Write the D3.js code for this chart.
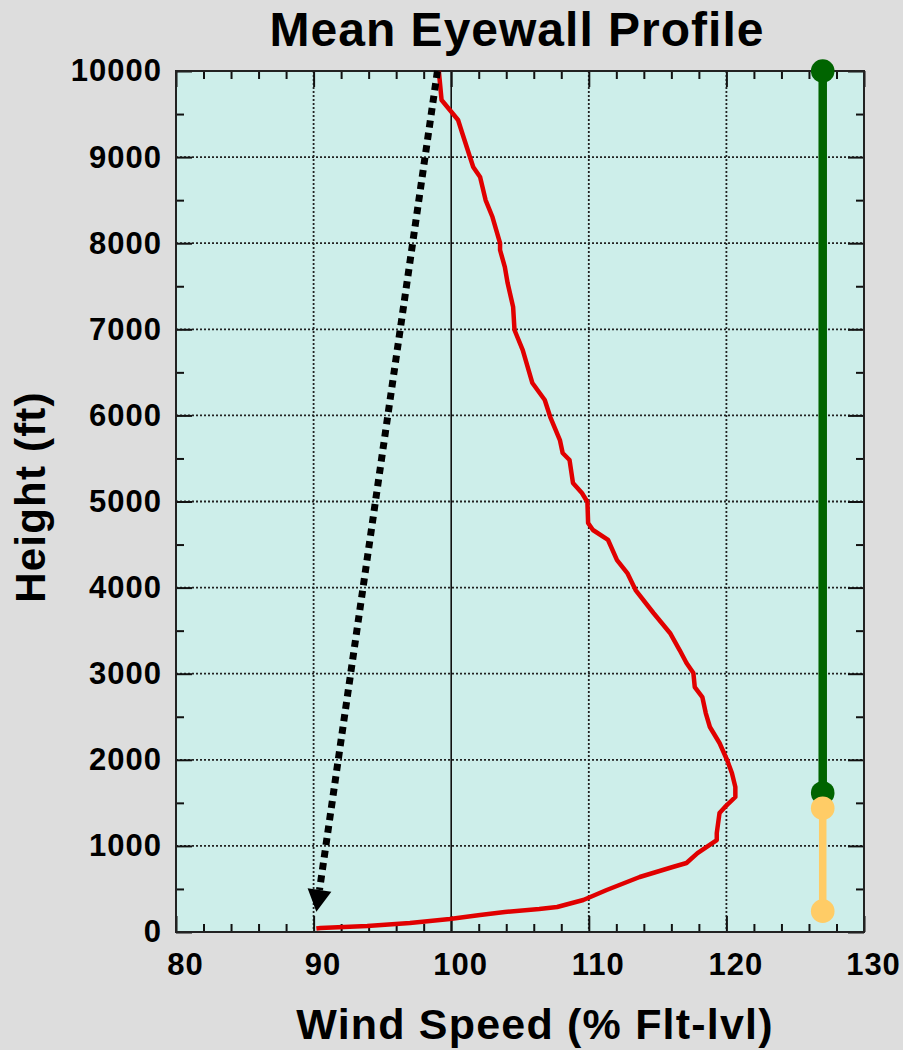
<!DOCTYPE html>
<html>
<head>
<meta charset="utf-8">
<script src="https://cdn.jsdelivr.net/npm/d3@7"></script>
<style>
  html, body { margin: 0; padding: 0; background: #dddddd; }
  svg { display: block; font-family: "Liberation Sans", Arial, sans-serif; font-weight: bold; }
</style>
</head>
<body>
<div class="container"></div>
<script>
// mean eyewall profile
var speed = [99.1, 99.3, 99.9, 100.5, 100.8, 101.2, 101.6, 102.1, 102.5, 103.0, 103.55, 103.55,
  103.9, 104.1, 104.5, 104.6, 105.2, 105.9, 106.8, 107.2, 107.9, 108.1, 108.6, 108.85, 109.5,
  109.9, 109.95, 110.3, 111.4, 112.05, 112.8, 113.4, 114.7, 115.9, 116.6, 117.1, 117.6, 117.7,
  118.25, 118.5, 118.8, 119.5, 120.05, 120.4, 120.65, 120.65, 119.9, 119.5, 119.4, 119.3, 119.3,
  117.9, 117.1, 116.1, 113.7, 111.3, 109.6, 107.7, 106.4, 103.9, 102.1, 99.9, 97.0, 93.9, 90.5, 90.2];
var height = [10000, 9663, 9547, 9431, 9280, 9082, 8885, 8769, 8501, 8304, 8002, 7921,
  7723, 7537, 7259, 6992, 6759, 6376, 6179, 5981, 5714, 5563, 5482, 5215, 5099,
  4994, 4750, 4669, 4553, 4320, 4169, 3972, 3705, 3473, 3275, 3124, 3008, 2845,
  2729, 2543, 2381, 2195, 1998, 1847, 1684, 1568, 1452, 1382, 1266, 1150, 1068,
  917, 801, 755, 639, 488, 372, 290, 267, 232, 197, 151, 105, 70, 46, 40];

var arrowFrom = [99.0, 10000];
var arrowTo = [90.2, 235];

var greenX = 127.0, greenRange = [1615, 10000];
var orangeX = 127.0, orangeRange = [242, 1438];

var xTicks = [80, 90, 100, 110, 120, 130];
var yTicks = [0, 1000, 2000, 3000, 4000, 5000, 6000, 7000, 8000, 9000, 10000];
var xGrid = [90, 110, 120];
var yGrid = [1000, 2000, 3000, 4000, 5000, 6000, 7000, 8000, 9000];
var xMinor = d3.range(82, 130, 2).filter(function(v) { return v % 10; });
var yMinor = d3.range(500, 10000, 1000);

var W = 903, H = 1050;
var plot = { left: 176, right: 864, top: 71, bottom: 932 };

var x = d3.scaleLinear().domain([80, 130]).range([plot.left, plot.right]);
var y = d3.scaleLinear().domain([0, 10000]).range([plot.bottom, plot.top]);

var svg = d3.select('.container').append('svg')
    .attr('width', W)
    .attr('height', H);

svg.append('rect')
    .attr('width', W).attr('height', H)
    .attr('fill', '#dddddd');

svg.append('rect')
    .attr('x', plot.left).attr('y', plot.top)
    .attr('width', plot.right - plot.left).attr('height', plot.bottom - plot.top)
    .attr('fill', '#cdeeea');

// dotted grid
var grid = svg.append('g')
    .attr('stroke', '#222')
    .attr('stroke-width', 1.8)
    .attr('stroke-dasharray', '2,2');
grid.selectAll('.gx').data(xGrid).enter().append('line')
    .attr('x1', function(d) { return x(d); }).attr('x2', function(d) { return x(d); })
    .attr('y1', plot.top).attr('y2', plot.bottom);
grid.selectAll('.gy').data(yGrid).enter().append('line')
    .attr('x1', plot.left).attr('x2', plot.right)
    .attr('y1', function(d) { return y(d); }).attr('y2', function(d) { return y(d); });

// 100% reference line
svg.append('line')
    .attr('x1', x(100)).attr('x2', x(100))
    .attr('y1', plot.top).attr('y2', plot.bottom)
    .attr('stroke', '#111')
    .attr('stroke-width', 1.6);

// ----------
// axes: ticks point inward on all four sides

function styleAxis(g) {
  g.select('.domain').remove();
  g.selectAll('.tick line').attr('stroke', '#111').attr('stroke-width', 2);
  g.selectAll('text')
    .attr('fill', '#000')
    .style('font-size', '31px')
    .style('font-weight', 'bold')
    .style('letter-spacing', '1px')
    .style('font-family', '"Liberation Sans", Arial, sans-serif');
}

var fmt = d3.format('d');

svg.append('g')
    .attr('transform', 'translate(0,' + plot.bottom + ')')
    .call(d3.axisBottom(x).tickValues(xTicks).tickFormat(fmt).tickSize(-16).tickPadding(21))
    .call(styleAxis)
    .selectAll('text').attr('dx', 9);
svg.append('g')
    .attr('transform', 'translate(0,' + plot.bottom + ')')
    .call(d3.axisBottom(x).tickValues(xMinor).tickSize(-8).tickFormat(''))
    .call(styleAxis);
svg.append('g')
    .attr('transform', 'translate(0,' + plot.top + ')')
    .call(d3.axisTop(x).tickValues(xTicks).tickSize(-16).tickFormat(''))
    .call(styleAxis);
svg.append('g')
    .attr('transform', 'translate(0,' + plot.top + ')')
    .call(d3.axisTop(x).tickValues(xMinor).tickSize(-8).tickFormat(''))
    .call(styleAxis);

svg.append('g')
    .attr('transform', 'translate(' + plot.left + ',0)')
    .call(d3.axisLeft(y).tickValues(yTicks).tickFormat(fmt).tickSize(-16).tickPadding(14))
    .call(styleAxis);
svg.append('g')
    .attr('transform', 'translate(' + plot.left + ',0)')
    .call(d3.axisLeft(y).tickValues(yMinor).tickSize(-8).tickFormat(''))
    .call(styleAxis);
svg.append('g')
    .attr('transform', 'translate(' + plot.right + ',0)')
    .call(d3.axisRight(y).tickValues(yTicks).tickSize(-16).tickFormat(''))
    .call(styleAxis);
svg.append('g')
    .attr('transform', 'translate(' + plot.right + ',0)')
    .call(d3.axisRight(y).tickValues(yMinor).tickSize(-8).tickFormat(''))
    .call(styleAxis);

svg.append('rect')
    .attr('x', plot.left).attr('y', plot.top)
    .attr('width', plot.right - plot.left).attr('height', plot.bottom - plot.top)
    .attr('fill', 'none')
    .attr('stroke', '#222')
    .attr('stroke-width', 2);

// ----------
// profile

var line = d3.line()
    .x(function(d) { return x(d[0]); })
    .y(function(d) { return y(d[1]); });

svg.append('path')
    .datum(d3.zip(speed, height))
    .attr('d', line)
    .attr('fill', 'none')
    .attr('stroke', '#e00000')
    .attr('stroke-width', 4.5)
    .attr('stroke-linejoin', 'round');

// dotted arrow, the shaft stops where the head starts
var headLen = 22, headHalf = 12;
var sx = x(arrowFrom[0]), sy = y(arrowFrom[1]);
var tx = x(arrowTo[0]), ty = y(arrowTo[1]);
var len = Math.hypot(tx - sx, ty - sy);
var ux = (tx - sx) / len, uy = (ty - sy) / len;
var bx = tx - ux * headLen, by = ty - uy * headLen;

svg.append('line')
    .attr('x1', sx).attr('y1', sy)
    .attr('x2', bx).attr('y2', by)
    .attr('stroke', '#000')
    .attr('stroke-width', 7)
    .attr('stroke-dasharray', '7,5.5');

svg.append('path')
    .attr('d', 'M' + tx + ',' + ty
      + 'L' + (bx - uy * headHalf) + ',' + (by + ux * headHalf)
      + 'L' + (bx + uy * headHalf) + ',' + (by - ux * headHalf) + 'Z')
    .attr('fill', '#000');

// layer bars on the right
function bar(xv, range, color, w) {
  var g = svg.append('g');
  g.append('line')
      .attr('x1', x(xv)).attr('x2', x(xv))
      .attr('y1', y(range[0])).attr('y2', y(range[1]))
      .attr('stroke', color)
      .attr('stroke-width', w);
  g.selectAll('circle').data(range).enter().append('circle')
      .attr('cx', x(xv))
      .attr('cy', function(d) { return y(d); })
      .attr('r', 11.8)
      .attr('fill', color);
}
bar(greenX, greenRange, '#006400', 8.5);
bar(orangeX, orangeRange, '#ffcc66', 7.5);

// ----------
// titles

svg.append('text')
    .attr('x', 517).attr('y', 46)
    .attr('text-anchor', 'middle')
    .style('font-size', '48px')
    .style('letter-spacing', '1px')
    .text('Mean Eyewall Profile');

svg.append('text')
    .attr('x', 535).attr('y', 1039)
    .attr('text-anchor', 'middle')
    .style('font-size', '43px')
    .style('letter-spacing', '1.2px')
    .text('Wind Speed (% Flt-lvl)');

svg.append('text')
    .attr('transform', 'translate(45,497) rotate(-90)')
    .attr('text-anchor', 'middle')
    .style('font-size', '42px')
    .style('letter-spacing', '1.2px')
    .text('Height (ft)');
</script>
</body>
</html>
